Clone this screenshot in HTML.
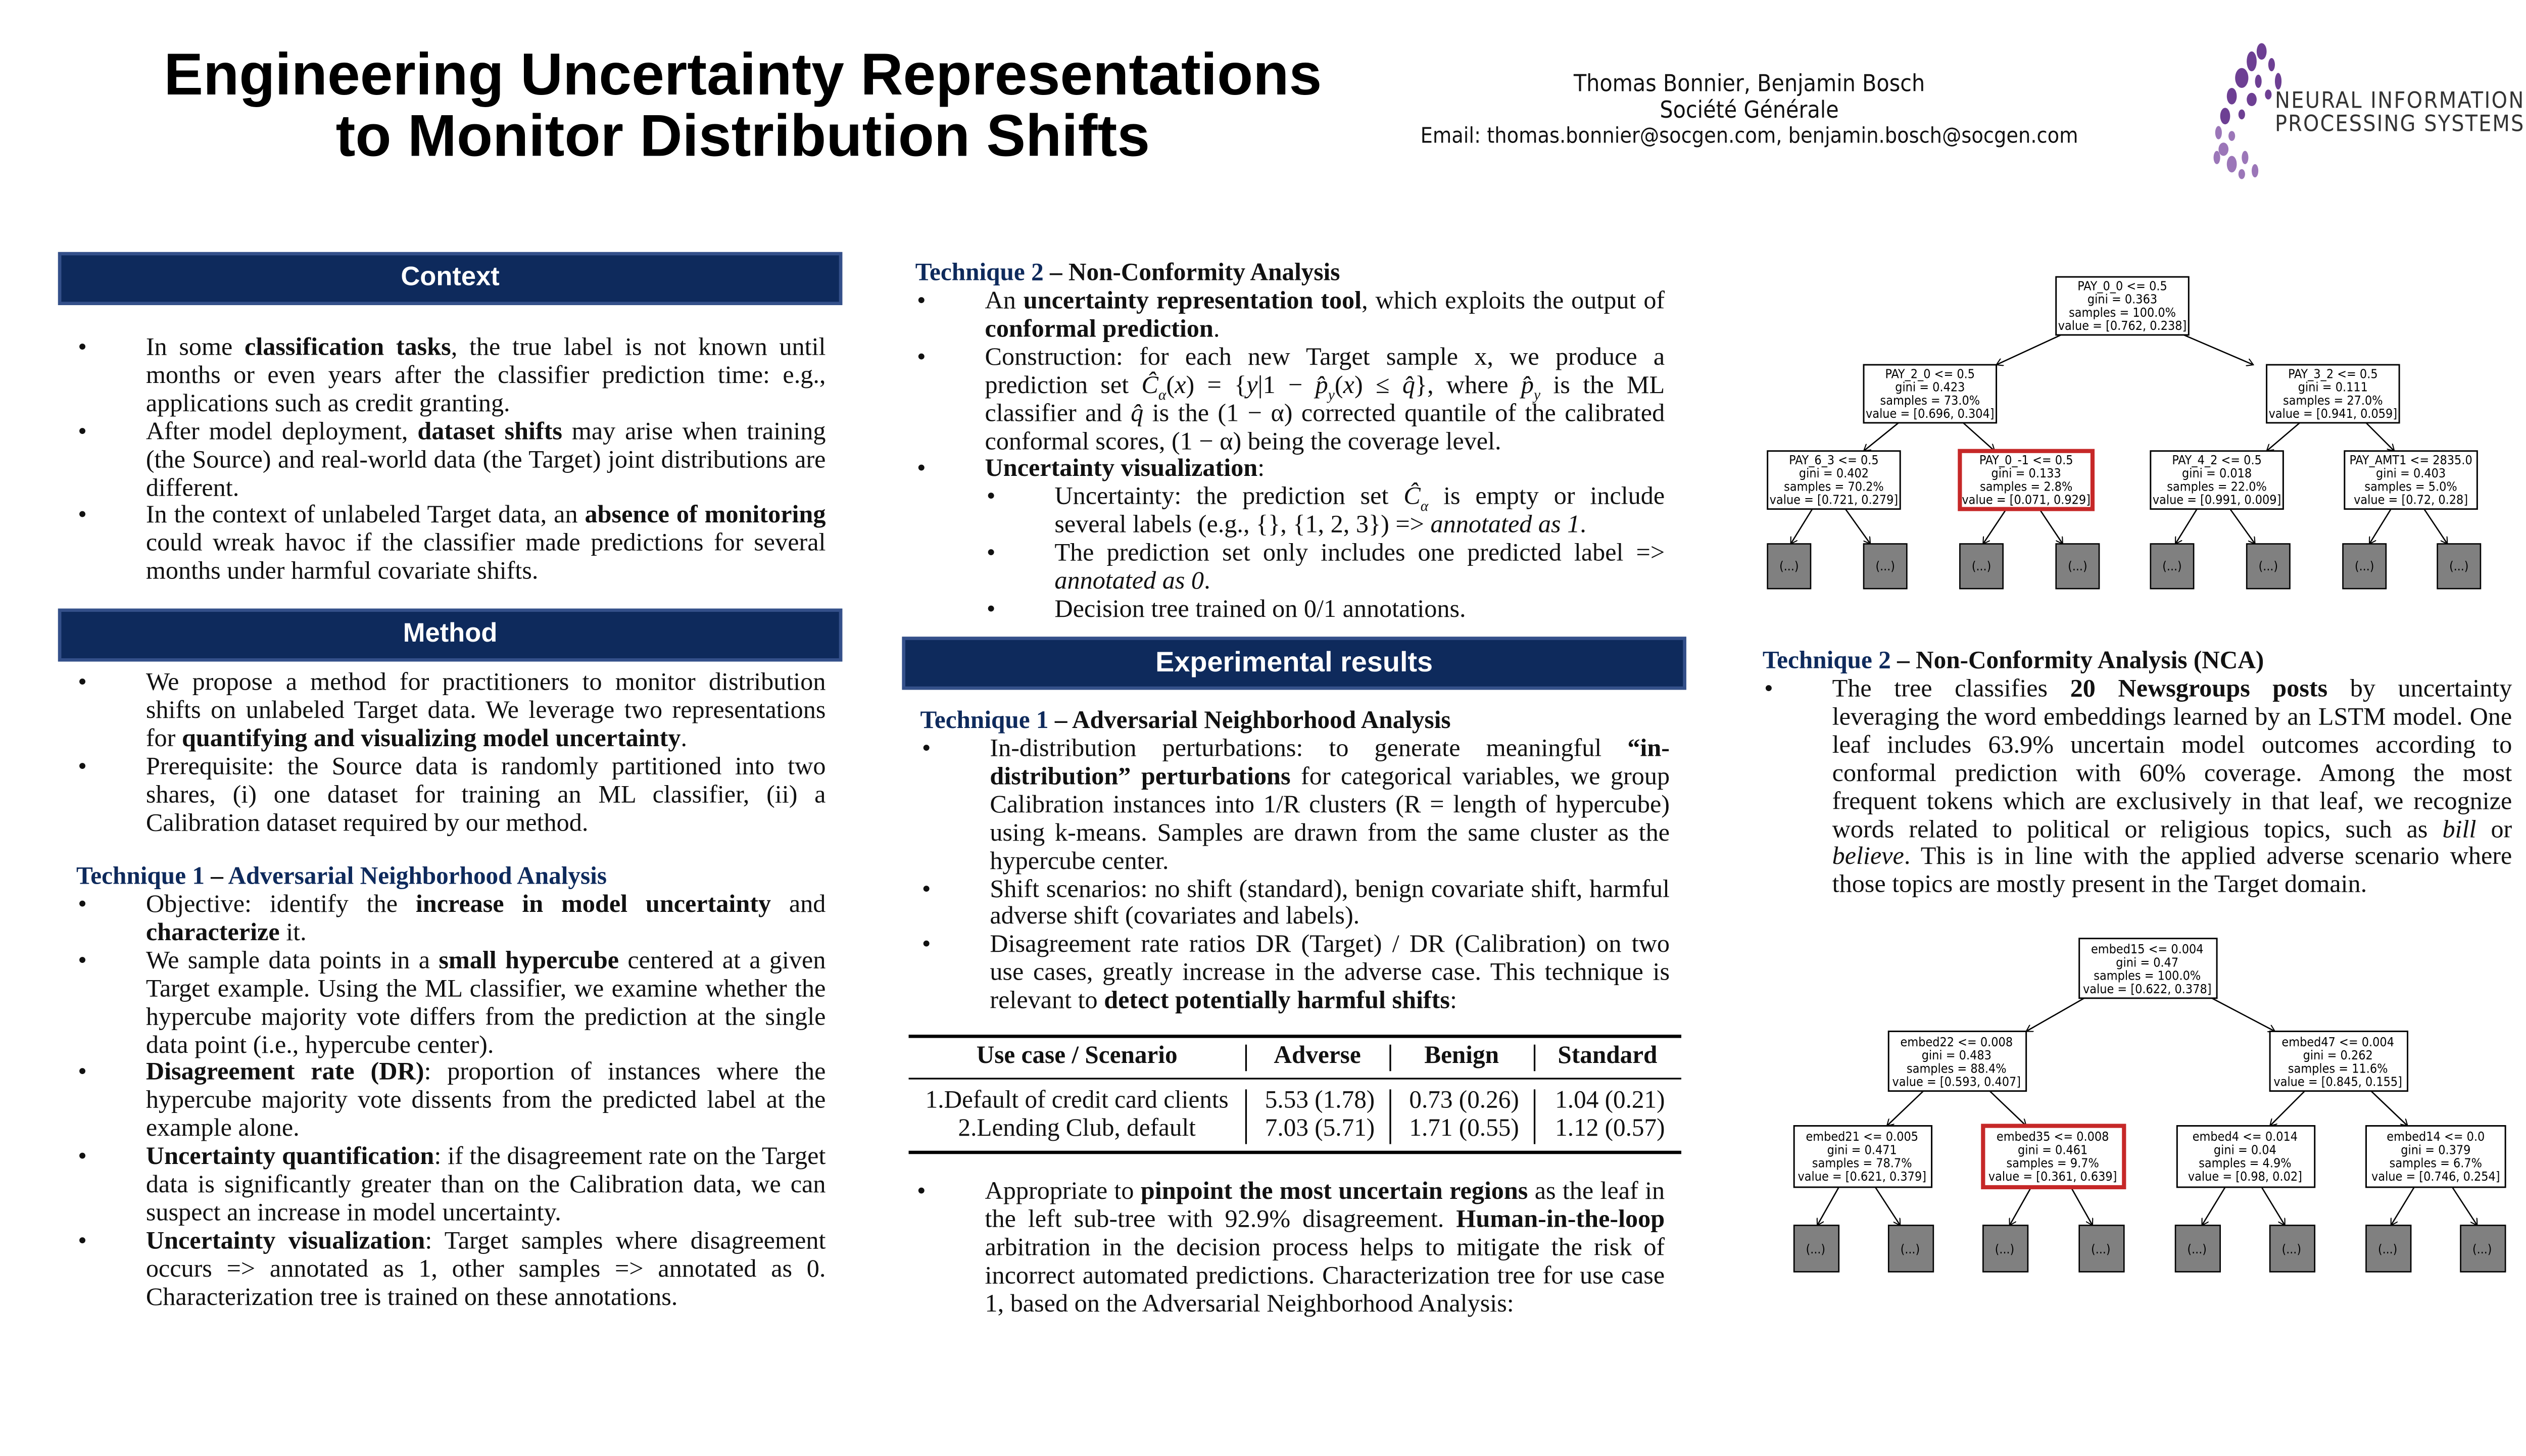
<!DOCTYPE html>
<html><head><meta charset="utf-8"><style>
html,body{margin:0;padding:0;background:#fff;}
body{width:5120px;height:2880px;overflow:hidden;position:relative;}
#p{position:absolute;left:0;top:0;width:1560px;height:878px;transform:scale(3.28205);transform-origin:0 0;font-family:"Liberation Serif",serif;color:#111;}
.a{position:absolute;}
.title{font-family:"Liberation Sans",sans-serif;font-weight:bold;font-size:35.5px;line-height:37px;text-align:center;left:40px;width:816px;top:27px;color:#000;}
.auth{font-family:"DejaVu Sans Condensed","DejaVu Sans",sans-serif;font-size:14px;line-height:15.5px;text-align:center;left:830px;width:450px;top:44px;}
.bar{background:#0e2a5c;border:2px solid #34508a;color:#fff;font-family:"Liberation Sans",sans-serif;font-weight:bold;font-size:16px;text-align:center;box-sizing:border-box;}
.txt{font-size:15.3px;line-height:16.9px;text-align:justify;}
.txt sub{line-height:0;font-size:9px;}
ul{margin:0;padding:0;list-style:none;}
li{position:relative;}
li:before{content:"•";position:absolute;left:-41px;}
.h{color:#0e2a5c;font-weight:bold;font-size:15px;}
.h span{color:#111}
</style></head><body><div id="p">
<div class="a title">Engineering Uncertainty Representations<br>to Monitor Distribution Shifts</div>
<div class="a auth">Thomas Bonnier, Benjamin Bosch<br>Société Générale<br><span style="font-size:13px">Email: thomas.bonnier@socgen.com, benjamin.bosch@socgen.com</span></div>
<svg class="a" style="left:1332px;top:25px" width="220" height="85">
<g fill="#6d3f93">
<ellipse cx="32" cy="6" rx="3" ry="5"/><ellipse cx="26" cy="12" rx="3" ry="6"/><ellipse cx="38" cy="14" rx="2" ry="4"/><ellipse cx="20" cy="22" rx="4" ry="6"/><ellipse cx="30" cy="24" rx="2" ry="4"/><ellipse cx="42" cy="24" rx="2" ry="5"/><ellipse cx="14" cy="33" rx="3" ry="5"/><ellipse cx="26" cy="35" rx="3" ry="4"/><ellipse cx="36" cy="32" rx="2" ry="3"/><ellipse cx="10" cy="45" rx="3" ry="5"/><ellipse cx="20" cy="44" rx="2" ry="3"/>
</g><g fill="#9b76b8">
<ellipse cx="6" cy="55" rx="2" ry="4"/><ellipse cx="9" cy="65" rx="3" ry="4"/><ellipse cx="14" cy="57" rx="2" ry="3"/><ellipse cx="5" cy="70" rx="2" ry="4"/><ellipse cx="14" cy="74" rx="3" ry="5"/><ellipse cx="22" cy="70" rx="2" ry="4"/><ellipse cx="20" cy="80" rx="2" ry="3"/><ellipse cx="28" cy="78" rx="2" ry="4"/>
</g>
<text x="40" y="40" font-family="DejaVu Sans Condensed,DejaVu Sans,sans-serif" font-size="13.5" fill="#333" textLength="150">NEURAL INFORMATION</text>
<text x="40" y="54" font-family="DejaVu Sans Condensed,DejaVu Sans,sans-serif" font-size="13.5" fill="#333" textLength="150">PROCESSING SYSTEMS</text>
</svg>

<div class="a bar" style="left:35px;top:152px;width:473px;height:32px;line-height:28px;">Context</div>
<div class="a txt" style="left:88px;top:202px;width:410px;"><ul>
<li>In some <b>classification tasks</b>, the true label is not known until months or even years after the classifier prediction time: e.g., applications such as credit granting.</li>
<li>After model deployment, <b>dataset shifts</b> may arise when training (the Source) and real-world data (the Target) joint distributions are different.</li>
<li>In the context of unlabeled Target data, an <b>absence of monitoring</b> could wreak havoc if the classifier made predictions for several months under harmful covariate shifts.</li></ul></div>

<div class="a bar" style="left:35px;top:367px;width:473px;height:32px;line-height:28px;">Method</div>
<div class="a txt" style="left:88px;top:404px;width:410px;"><ul>
<li>We propose a method for practitioners to monitor distribution shifts on unlabeled Target data. We leverage two representations for <b>quantifying and visualizing model uncertainty</b>.</li>
<li>Prerequisite: the Source data is randomly partitioned into two shares, (i) one dataset for training an ML classifier, (ii) a Calibration dataset required by our method.</li></ul></div>

<div class="a h" style="left:46px;top:521px;">Technique 1 <span>–</span> Adversarial Neighborhood Analysis</div>
<div class="a txt" style="left:88px;top:538px;width:410px;"><ul>
<li>Objective: identify the <b>increase in model uncertainty</b> and <b>characterize</b> it.</li>
<li>We sample data points in a <b>small hypercube</b> centered at a given Target example. Using the ML classifier, we examine whether the hypercube majority vote differs from the prediction at the single data point (i.e., hypercube center).</li>
<li><b>Disagreement rate (DR)</b>: proportion of instances where the hypercube majority vote dissents from the predicted label at the example alone.</li>
<li><b>Uncertainty quantification</b>: if the disagreement rate on the Target data is significantly greater than on the Calibration data, we can suspect an increase in model uncertainty.</li>
<li><b>Uncertainty visualization</b>: Target samples where disagreement occurs =&gt; annotated as 1, other samples =&gt; annotated as 0. Characterization tree is trained on these annotations.</li></ul></div>

<div class="a h" style="left:552px;top:157px;">Technique 2 <span>– Non-Conformity Analysis</span></div>
<div class="a txt" style="left:594px;top:174px;width:410px;"><ul>
<li>An <b>uncertainty representation tool</b>, which exploits the output of <b>conformal prediction</b>.</li>
<li>Construction: for each new Target sample x, we produce a prediction set <i>Ĉ<sub>α</sub></i>(<i>x</i>) = {<i>y</i>|1 − <i>p̂<sub>y</sub></i>(<i>x</i>) ≤ <i>q̂</i>}, where <i>p̂<sub>y</sub></i> is the ML classifier and <i>q̂</i> is the (1 − α) corrected quantile of the calibrated conformal scores, (1 − α) being the coverage level.</li>
<li><b>Uncertainty visualization</b>:</li></ul>
<ul style="margin-left:42px;">
<li>Uncertainty: the prediction set <i>Ĉ<sub>α</sub></i> is empty or include several labels (e.g., {}, {1, 2, 3}) =&gt; <i>annotated as 1</i>.</li>
<li>The prediction set only includes one predicted label =&gt; <i>annotated as 0</i>.</li>
<li>Decision tree trained on 0/1 annotations.</li></ul></div>

<div class="a bar" style="left:544px;top:384px;width:473px;height:32px;line-height:28px;font-size:17px;">Experimental results</div>
<div class="a h" style="left:555px;top:427px;">Technique 1 <span>– Adversarial Neighborhood Analysis</span></div>
<div class="a txt" style="left:597px;top:444px;width:410px;"><ul>
<li>In-distribution perturbations: to generate meaningful <b>“in-distribution” perturbations</b> for categorical variables, we group Calibration instances into 1/R clusters (R = length of hypercube) using k-means. Samples are drawn from the same cluster as the hypercube center.</li>
<li>Shift scenarios: no shift (standard), benign covariate shift, harmful adverse shift (covariates and labels).</li>
<li>Disagreement rate ratios DR (Target) / DR (Calibration) on two use cases, greatly increase in the adverse case. This technique is relevant to <b>detect potentially harmful shifts</b>:</li></ul></div>

<div class="a" style="left:548px;top:624px;width:466px;border-top:2.5px solid #000;border-bottom:2.5px solid #000;height:68px;font-size:15px;">
<div class="a" style="left:0;top:24px;width:466px;border-top:1.5px solid #000;"></div>
<div class="a" style="left:203px;top:4px;height:16px;border-left:1px solid #000"></div><div class="a" style="left:290px;top:4px;height:16px;border-left:1px solid #000"></div><div class="a" style="left:377px;top:4px;height:16px;border-left:1px solid #000"></div>
<div class="a" style="left:203px;top:31px;height:33px;border-left:1px solid #000"></div><div class="a" style="left:290px;top:31px;height:33px;border-left:1px solid #000"></div><div class="a" style="left:377px;top:31px;height:33px;border-left:1px solid #000"></div>
<div class="a" style="left:0;top:3px;width:203px;text-align:center;font-weight:bold;">Use case / Scenario</div>
<div class="a" style="left:203px;top:3px;width:87px;text-align:center;font-weight:bold;">Adverse</div>
<div class="a" style="left:290px;top:3px;width:87px;text-align:center;font-weight:bold;">Benign</div>
<div class="a" style="left:377px;top:3px;width:89px;text-align:center;font-weight:bold;">Standard</div>
<div class="a" style="left:0;top:30px;width:203px;text-align:center;line-height:17px;">1.Default of credit card clients<br>2.Lending Club, default</div>
<div class="a" style="left:203px;top:30px;width:90px;text-align:center;line-height:17px;">5.53 (1.78)<br>7.03 (5.71)</div>
<div class="a" style="left:290px;top:30px;width:90px;text-align:center;line-height:17px;">0.73 (0.26)<br>1.71 (0.55)</div>
<div class="a" style="left:377px;top:30px;width:92px;text-align:center;line-height:17px;">1.04 (0.21)<br>1.12 (0.57)</div>
</div>

<div class="a txt" style="left:594px;top:711px;width:410px;"><ul>
<li>Appropriate to <b>pinpoint the most uncertain regions</b> as the leaf in the left sub-tree with 92.9% disagreement. <b>Human-in-the-loop</b> arbitration in the decision process helps to mitigate the risk of incorrect automated predictions. Characterization tree for use case 1, based on the Adversarial Neighborhood Analysis:</li></ul></div>

<div class="a h" style="left:1063px;top:391px;">Technique 2 <span>– Non-Conformity Analysis (NCA)</span></div>
<div class="a txt" style="left:1105px;top:408px;width:410px;"><ul>
<li>The tree classifies <b>20 Newsgroups posts</b> by uncertainty leveraging the word embeddings learned by an LSTM model. One leaf includes 63.9% uncertain model outcomes according to conformal prediction with 60% coverage. Among the most frequent tokens which are exclusively in that leaf, we recognize words related to political or religious topics, such as <i>bill</i> or <i>believe</i>. This is in line with the applied adverse scenario where those topics are mostly present in the Target domain.</li></ul></div>

<svg class="a" style="left:0;top:0" width="1560" height="878" font-family="DejaVu Sans Condensed,DejaVu Sans,sans-serif" font-size="7.6" text-anchor="middle">
<defs><marker id="ar" markerWidth="6" markerHeight="6" refX="5" refY="3" orient="auto"><path d="M0,0 L5,3 L0,6" fill="none" stroke="#000" stroke-width="0.8"/></marker></defs>
<g stroke="#000" stroke-width="0.8" marker-end="url(#ar)">
<line x1="1243" y1="202" x2="1204" y2="220"/><line x1="1317" y1="202" x2="1359" y2="220"/>
<line x1="1145" y1="255" x2="1124" y2="272"/><line x1="1184" y1="255" x2="1203" y2="272"/><line x1="1387" y1="255" x2="1367" y2="272"/><line x1="1427" y1="255" x2="1444" y2="272"/>
<line x1="1093" y1="307" x2="1080" y2="328"/><line x1="1113" y1="307" x2="1128" y2="328"/><line x1="1210" y1="307" x2="1196" y2="328"/><line x1="1230" y1="307" x2="1244" y2="328"/><line x1="1325" y1="307" x2="1312" y2="328"/><line x1="1345" y1="307" x2="1360" y2="328"/><line x1="1442" y1="307" x2="1429" y2="328"/><line x1="1462" y1="307" x2="1476" y2="328"/>
<line x1="1257" y1="602" x2="1222" y2="622"/><line x1="1334" y1="602" x2="1372" y2="622"/>
<line x1="1160" y1="658" x2="1138" y2="679"/><line x1="1200" y1="658" x2="1222" y2="679"/><line x1="1390" y1="658" x2="1369" y2="679"/><line x1="1430" y1="658" x2="1452" y2="679"/>
<line x1="1109" y1="716" x2="1096" y2="739"/><line x1="1131" y1="716" x2="1146" y2="739"/><line x1="1225" y1="716" x2="1212" y2="739"/><line x1="1249" y1="716" x2="1262" y2="739"/><line x1="1342" y1="716" x2="1328" y2="739"/><line x1="1364" y1="716" x2="1378" y2="739"/><line x1="1456" y1="716" x2="1442" y2="739"/><line x1="1479" y1="716" x2="1494" y2="739"/>
</g>
<g fill="#fff" stroke="#000" stroke-width="0.9">
<rect x="1240" y="167" width="80" height="35"/><rect x="1124" y="220" width="80" height="35"/><rect x="1367" y="220" width="80" height="35"/>
<rect x="1066" y="272" width="80" height="35"/><rect x="1182" y="272" width="80" height="35" stroke="#c62828" stroke-width="2.5"/><rect x="1297" y="272" width="80" height="35"/><rect x="1414" y="272" width="80" height="35"/>
<rect x="1254" y="566" width="83" height="36"/><rect x="1139" y="622" width="83" height="36"/><rect x="1369" y="622" width="83" height="36"/>
<rect x="1082" y="679" width="83" height="37"/><rect x="1196" y="679" width="85" height="37" stroke="#c62828" stroke-width="2.5"/><rect x="1313" y="679" width="83" height="37"/><rect x="1427" y="679" width="84" height="37"/>
</g>
<g fill="#808080" stroke="#000" stroke-width="0.8">
<rect x="1066" y="328" width="26" height="27"/><rect x="1124" y="328" width="26" height="27"/><rect x="1182" y="328" width="26" height="27"/><rect x="1240" y="328" width="26" height="27"/><rect x="1297" y="328" width="26" height="27"/><rect x="1355" y="328" width="26" height="27"/><rect x="1413" y="328" width="26" height="27"/><rect x="1470" y="328" width="26" height="27"/>
<rect x="1082" y="739" width="27" height="28"/><rect x="1139" y="739" width="27" height="28"/><rect x="1196" y="739" width="27" height="28"/><rect x="1254" y="739" width="27" height="28"/><rect x="1312" y="739" width="27" height="28"/><rect x="1369" y="739" width="27" height="28"/><rect x="1427" y="739" width="27" height="28"/><rect x="1484" y="739" width="27" height="28"/>
</g>
<g font-size="7.5">
<text x="1079" y="344">(...)</text><text x="1137" y="344">(...)</text><text x="1195" y="344">(...)</text><text x="1253" y="344">(...)</text><text x="1310" y="344">(...)</text><text x="1368" y="344">(...)</text><text x="1426" y="344">(...)</text><text x="1483" y="344">(...)</text>
<text x="1095" y="756">(...)</text><text x="1152" y="756">(...)</text><text x="1209" y="756">(...)</text><text x="1267" y="756">(...)</text><text x="1325" y="756">(...)</text><text x="1382" y="756">(...)</text><text x="1440" y="756">(...)</text><text x="1497" y="756">(...)</text>
</g>
<g>
<text x="1280" y="175">PAY_0_0 &lt;= 0.5</text><text x="1280" y="183">gini = 0.363</text><text x="1280" y="191">samples = 100.0%</text><text x="1280" y="199">value = [0.762, 0.238]</text>
<text x="1164" y="228">PAY_2_0 &lt;= 0.5</text><text x="1164" y="236">gini = 0.423</text><text x="1164" y="244">samples = 73.0%</text><text x="1164" y="252">value = [0.696, 0.304]</text>
<text x="1407" y="228">PAY_3_2 &lt;= 0.5</text><text x="1407" y="236">gini = 0.111</text><text x="1407" y="244">samples = 27.0%</text><text x="1407" y="252">value = [0.941, 0.059]</text>
<text x="1106" y="280">PAY_6_3 &lt;= 0.5</text><text x="1106" y="288">gini = 0.402</text><text x="1106" y="296">samples = 70.2%</text><text x="1106" y="304">value = [0.721, 0.279]</text>
<text x="1222" y="280">PAY_0_-1 &lt;= 0.5</text><text x="1222" y="288">gini = 0.133</text><text x="1222" y="296">samples = 2.8%</text><text x="1222" y="304">value = [0.071, 0.929]</text>
<text x="1337" y="280">PAY_4_2 &lt;= 0.5</text><text x="1337" y="288">gini = 0.018</text><text x="1337" y="296">samples = 22.0%</text><text x="1337" y="304">value = [0.991, 0.009]</text>
<text x="1454" y="280">PAY_AMT1 &lt;= 2835.0</text><text x="1454" y="288">gini = 0.403</text><text x="1454" y="296">samples = 5.0%</text><text x="1454" y="304">value = [0.72, 0.28]</text>
<text x="1295" y="575">embed15 &lt;= 0.004</text><text x="1295" y="583">gini = 0.47</text><text x="1295" y="591">samples = 100.0%</text><text x="1295" y="599">value = [0.622, 0.378]</text>
<text x="1180" y="631">embed22 &lt;= 0.008</text><text x="1180" y="639">gini = 0.483</text><text x="1180" y="647">samples = 88.4%</text><text x="1180" y="655">value = [0.593, 0.407]</text>
<text x="1410" y="631">embed47 &lt;= 0.004</text><text x="1410" y="639">gini = 0.262</text><text x="1410" y="647">samples = 11.6%</text><text x="1410" y="655">value = [0.845, 0.155]</text>
<text x="1123" y="688">embed21 &lt;= 0.005</text><text x="1123" y="696">gini = 0.471</text><text x="1123" y="704">samples = 78.7%</text><text x="1123" y="712">value = [0.621, 0.379]</text>
<text x="1238" y="688">embed35 &lt;= 0.008</text><text x="1238" y="696">gini = 0.461</text><text x="1238" y="704">samples = 9.7%</text><text x="1238" y="712">value = [0.361, 0.639]</text>
<text x="1354" y="688">embed4 &lt;= 0.014</text><text x="1354" y="696">gini = 0.04</text><text x="1354" y="704">samples = 4.9%</text><text x="1354" y="712">value = [0.98, 0.02]</text>
<text x="1469" y="688">embed14 &lt;= 0.0</text><text x="1469" y="696">gini = 0.379</text><text x="1469" y="704">samples = 6.7%</text><text x="1469" y="712">value = [0.746, 0.254]</text>
</g>
</svg>
</div></body></html>
